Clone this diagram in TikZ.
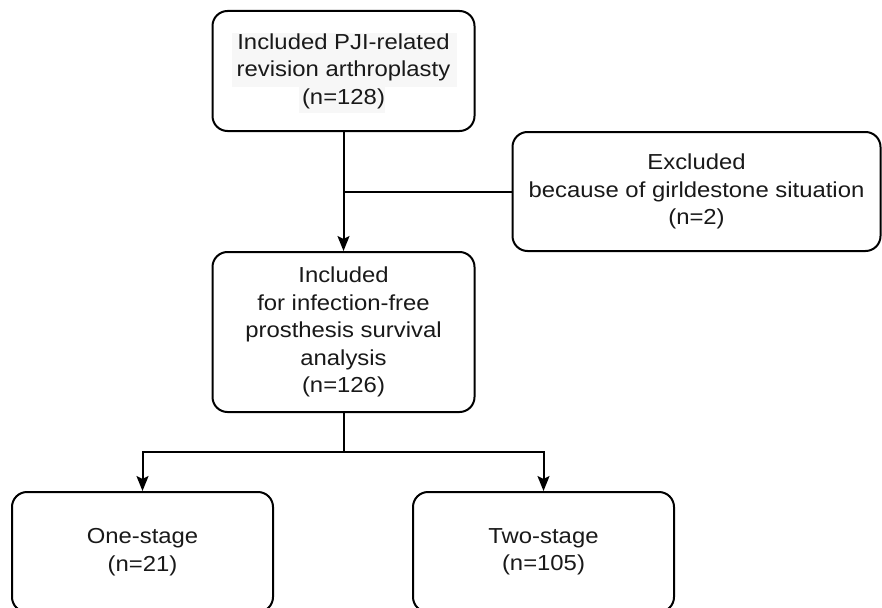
\documentclass[tikz,border=0pt]{standalone}
\usepackage{fontspec}
\setmainfont[FakeStretch=1.1]{Liberation Sans}
\usetikzlibrary{arrows.meta}
\begin{document}
\begin{tikzpicture}[x=1pt,y=-1pt,
  box/.style={draw=black, line width=2pt, rounded corners=15pt, align=center,
    inner sep=0pt, font=\fontsize{21.7}{27.5}\selectfont, text=black!90},
  conn/.style={draw=black, line width=2pt},
  arr/.style={conn, -{Stealth[length=15pt,width=12pt,inset=3pt]}}]
\useasboundingbox (0,0) rectangle (882,607);
\clip (0,0) rectangle (882,607);
% faint text highlight in the top box
\fill[black!3] (232,33) rectangle (457,87);
\fill[black!3] (299,87) rectangle (385,113);
\node[box, minimum width=262pt, minimum height=120pt] (top) at (343.5,71)
  {Included PJI-related\\revision arthroplasty\\(n=128)};
\node[box, minimum width=368pt, minimum height=119pt] (excl) at (696.5,191.5)
  {Excluded\\because of girldestone situation\\(n=2)};
\node[box, minimum width=262pt, minimum height=160pt] (mid) at (343.5,332)
  {Included\\for infection-free\\prosthesis survival\\analysis\\(n=126)};
\node[box, minimum width=261pt, minimum height=120pt] (one) at (142.5,552)
  {One-stage\\(n=21)};
\node[box, minimum width=261pt, minimum height=120pt] (two) at (543.5,552)
  {Two-stage\\(n=105)};
\coordinate (j1) at (top.south |- excl.west);
\coordinate (j2) at (343.5,452);
\draw[arr] (top.south) -- (mid.north);
\draw[conn] (j1) -- (excl.west);
\draw[conn] (mid.south) -- (j2);
\draw[arr] (j2) -| (one.north);
\draw[arr] (j2) -| (two.north);
\end{tikzpicture}
\end{document}
